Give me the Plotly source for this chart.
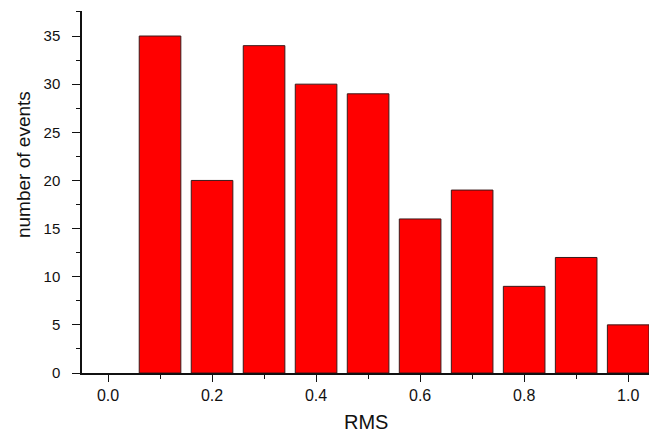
import plotly.graph_objects as go

rms = [0.1, 0.2, 0.3, 0.4, 0.5, 0.6, 0.7, 0.8, 0.9, 1.0]
events = [35, 20, 34, 30, 29, 16, 19, 9, 12, 5]
x_ticks = [0.0, 0.2, 0.4, 0.6, 0.8, 1.0]
x_tick_text = ["0.0", "0.2", "0.4", "0.6", "0.8", "1.0"]
y_ticks = [0, 5, 10, 15, 20, 25, 30, 35]

fig = go.Figure(go.Bar(
    x=rms, y=events, width=0.08,
    marker=dict(color="#ff0000", line=dict(color="#3a1a1a", width=1)),
))

fig.update_layout(
    width=649, height=433,
    margin=dict(l=82, r=0, t=11, b=60),
    plot_bgcolor="white", paper_bgcolor="white",
    showlegend=False,
    font=dict(family="Liberation Sans, Arial, sans-serif", color="#111"),
    xaxis=dict(
        range=[-0.05, 1.04], tickvals=x_ticks, ticktext=x_tick_text, automargin=False,
        ticks="outside", ticklen=7, tickwidth=1, tickcolor="#111",
        showline=True, linecolor="#111", linewidth=1.5, showgrid=False, zeroline=False,
        tickfont=dict(size=16), ticklabelstandoff=0,
        minor=dict(dtick=0.1, tick0=0, ticks="outside", ticklen=4, tickcolor="#111", showgrid=False),
    ),
    yaxis=dict(
        range=[0, 37.6], tickvals=y_ticks, automargin=False,
        ticks="outside", ticklen=8, tickwidth=1, tickcolor="#111",
        showline=True, linecolor="#111", linewidth=1.5, showgrid=False, zeroline=False,
        tickfont=dict(size=15), ticklabelstandoff=9,
        minor=dict(dtick=2.5, tick0=0, ticks="outside", ticklen=4, tickcolor="#111", showgrid=False),
    ),
    annotations=[
        dict(text="RMS", xref="paper", yref="paper", x=0.5, y=-0.135, yanchor="middle",
             showarrow=False, font=dict(size=20)),
        dict(text="number of events", xref="paper", yref="paper", x=-0.102, y=0.575,
             xanchor="center", yanchor="middle", textangle=-90, showarrow=False, font=dict(size=19)),
    ],
)

fig.write_html("out.html", config={"displayModeBar": False},
               post_script="document.body.style.margin='0';document.body.style.overflow='hidden';")
